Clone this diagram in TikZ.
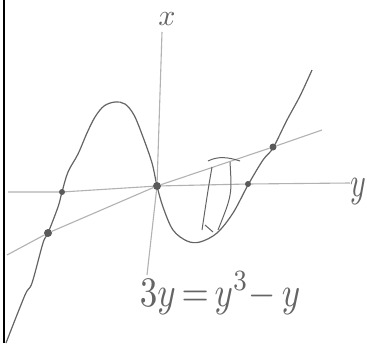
\documentclass[tikz,border=0pt]{standalone}
\usepackage{graphicx}
\usepackage{tikz}
\usetikzlibrary{positioning}
\definecolor{crayon}{RGB}{100,100,100}
\definecolor{axegris}{RGB}{178,178,178}
\definecolor{pointgris}{RGB}{90,90,90}

\begin{document}
\begin{tikzpicture}[x=1pt, y=-1pt, every node/.style={circle, fill=pointgris, inner sep=0pt, minimum size=6pt}]
    \useasboundingbox[fill=white] (0,0) rectangle (367,343);
    \draw[black, line width=2.4pt] (4,0) -- (4,343);

    % Courbe
    \draw[crayon, line width=1.2pt] plot[smooth, tension=0.55] coordinates {
        (6,343) (25,295) (32,283) (43,243) (48,233) (58,207) (62,192) (68,172)
        (78,154) (87,133) (95,117) (104,106) (115,102) (125,104) (134,115)
        (143,137) (152,163) (157,186) (163,207) (173,230) (187,241) (200,242)
        (217,233) (233,213) (248,185) (263,160) (273,148) (287,120) (300,96) (312,70)};

    \node (p1) at (62,192) {};
    \node[minimum size=8pt] (p0) at (157,186) {};
    \node (p2) at (248,184) {};
    \node[minimum size=8pt] (q1) at (48,233) {};
    \node[minimum size=7pt] (q2) at (273,147) {};

    \coordinate (yg) at (8,192);
    \coordinate (yd) at (350,183);
    \coordinate (xh) at (162,32);
    \coordinate (xb) at (147,275);
    \coordinate (dg) at (7,255);
    \coordinate (dd) at (322,130);

    \draw[axegris, line width=1.1pt] (yg) -- (p1) -- (p0) -- (p2) -- (yd);
    \draw[axegris, line width=1.1pt] (xh) -- (p0) -- (xb);
    \draw[axegris, line width=1.1pt] (dg) -- (q1) -- (p0) -- (q2) -- (dd);

    % Traits
    \draw[crayon, line width=1pt] (208,161) .. controls (218,156) and (228,157) .. (240,161);
    \draw[crayon, line width=1pt] (212,167) .. controls (208,190) .. (202,230);
    \draw[crayon, line width=1pt] (230,162) .. controls (232,195) .. (218,230);
    \draw[crayon, line width=1pt] (205,225) -- (213,232);

    \node[draw=none, fill=none, minimum size=0pt, text=crayon] (lx) at (167,19) {\scalebox{3}{$x$}};
    \node[draw=none, fill=none, minimum size=0pt, text=crayon] (ly) at (358,192) {\scalebox{3}[4.2]{$y$}};
    \node[draw=none, fill=none, text=crayon] (eq) at (220,293) {\scalebox{3.5}[4.2]{$3y\,{=}\,y^3{-}\,y$}};
\end{tikzpicture}
\end{document}
